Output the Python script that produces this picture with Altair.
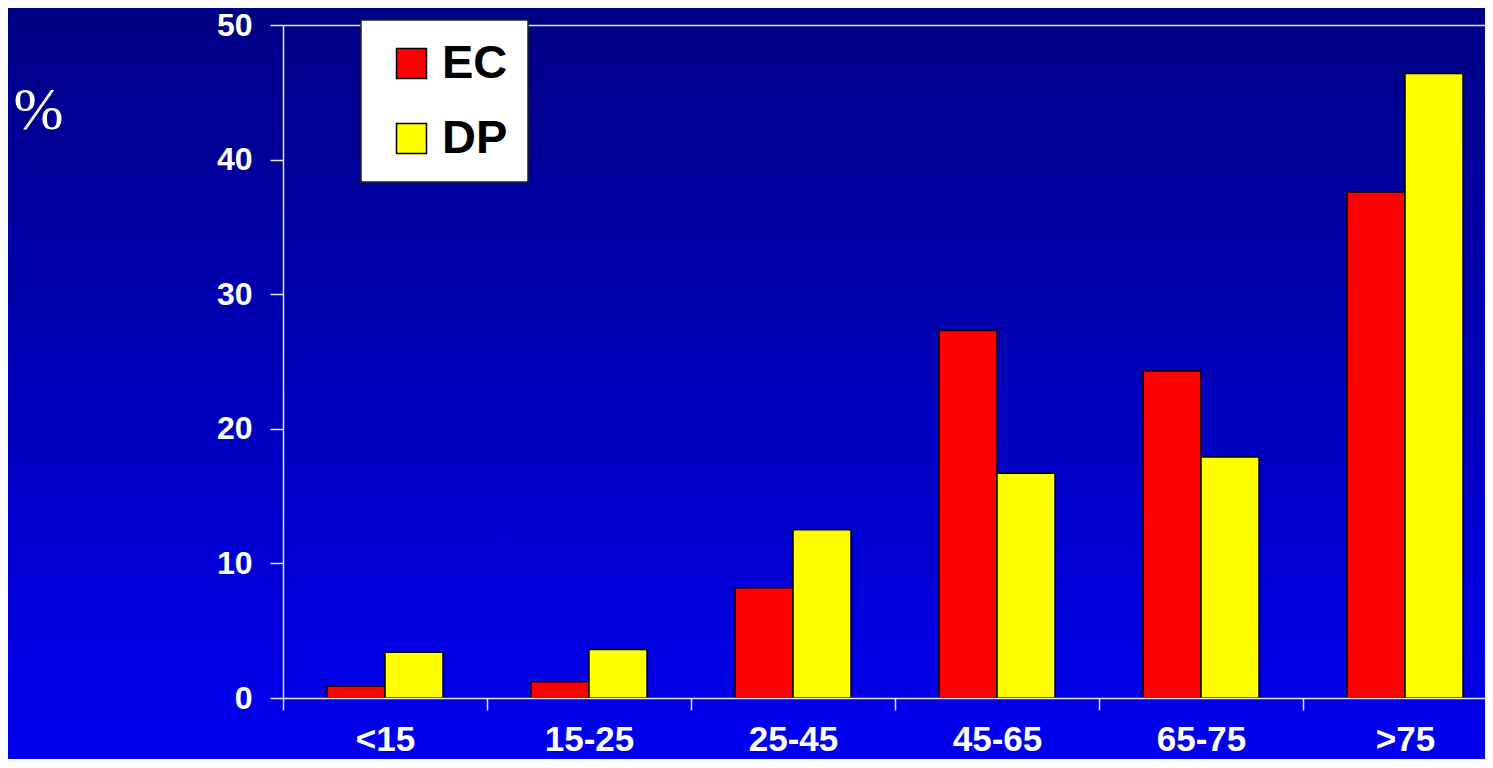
import altair as alt
import pandas as pd

categories = ["<15", "15-25", "25-45", "45-65", "65-75", ">75"]
series_names = ["EC", "DP"]
ec_values = [0.9, 1.2, 8.2, 27.3, 24.3, 37.6]
dp_values = [3.4, 3.6, 12.5, 16.7, 17.9, 46.4]
y_ticks = [0, 10, 20, 30, 40, 50]
series_colors = ["#ff0000", "#ffff00"]

rows = []
for c, e, d in zip(categories, ec_values, dp_values):
    rows.append({"cat": c, "series": "EC", "value": e})
    rows.append({"cat": c, "series": "DP", "value": d})
df = pd.DataFrame(rows)

bg_df = pd.DataFrame({"k": [0]})

gradient = alt.LinearGradient(
    gradient="linear",
    stops=[alt.GradientStop(color="#000084", offset=0),
           alt.GradientStop(color="#0000f2", offset=1)],
    x1=0, x2=0, y1=0, y2=1,
)

bg = alt.Chart(bg_df).mark_rect(fill=gradient, strokeOpacity=0).encode(
    x=alt.value(-275), x2=alt.value(1202), y=alt.value(-17), y2=alt.value(743)
)

bars = alt.Chart(df).mark_bar(stroke="black", strokeWidth=1.5).encode(
    x=alt.X("cat:N", sort=categories,
            scale=alt.Scale(range=[0, 1224], paddingInner=0, paddingOuter=0),
            axis=alt.Axis(title=None, labelAngle=0, labelFont="Liberation Sans",
                          labelFontWeight="bold", labelFontSize=35, labelColor="white",
                          labelPadding=12, tickSize=12, tickColor="#e6e6e6", tickWidth=1.5,
                          domainColor="#e6e6e6", domainWidth=1.5, tickBand="extent",
                          zindex=1)),
    xOffset=alt.XOffset("series:N", sort=series_names,
                        scale=alt.Scale(paddingInner=0, paddingOuter=0.7586)),
    y=alt.Y("value:Q", scale=alt.Scale(domain=[0, 50], nice=False),
            axis=alt.Axis(values=y_ticks, title="%", titleAngle=0, titleX=-245, titleY=85,
                          titleAlign="center", titleBaseline="middle",
                          titleFont="Liberation Serif", titleFontWeight="normal",
                          titleFontSize=60, titleColor="white",
                          labelFont="Liberation Sans", labelFontWeight="bold",
                          labelFontSize=32, labelColor="white", labelPadding=18,
                          tickSize=13, tickColor="#e6e6e6", tickWidth=1.5,
                          domainColor="#e6e6e6", domainWidth=1.5,
                          grid=True, gridColor="#e6e6e6", gridWidth=1.5,
                          gridOpacity={"condition": {"test": "datum.value === 50", "value": 1}, "value": 0},
                          zindex=1)),
    color=alt.Color("series:N", sort=series_names,
                    scale=alt.Scale(domain=series_names, range=series_colors),
                    legend=alt.Legend(title=None, orient="none", legendX=78, legendY=-5,
                                      fillColor="white", strokeColor="#222222",
                                      padding=20, symbolType="square", symbolSize=900,
                                      symbolStrokeColor="black", symbolStrokeWidth=1.5,
                                      symbolOffset=7, labelOffset=7,
                                      labelFont="Liberation Sans", labelFontWeight="bold",
                                      labelFontSize=47, labelColor="black", rowPadding=27,
                                      zindex=1)),
)

chart = alt.layer(bg, bars).properties(
    width=1202, height=673,
    autosize=alt.AutoSizeParams(type="none"),
    padding={"left": 275, "top": 17, "right": 0, "bottom": 61},
).configure(background="#000084").configure_view(strokeOpacity=0).configure_legend(strokeWidth=1.5)

chart.save("out.html", embed_options={"renderer": "svg", "actions": False})
